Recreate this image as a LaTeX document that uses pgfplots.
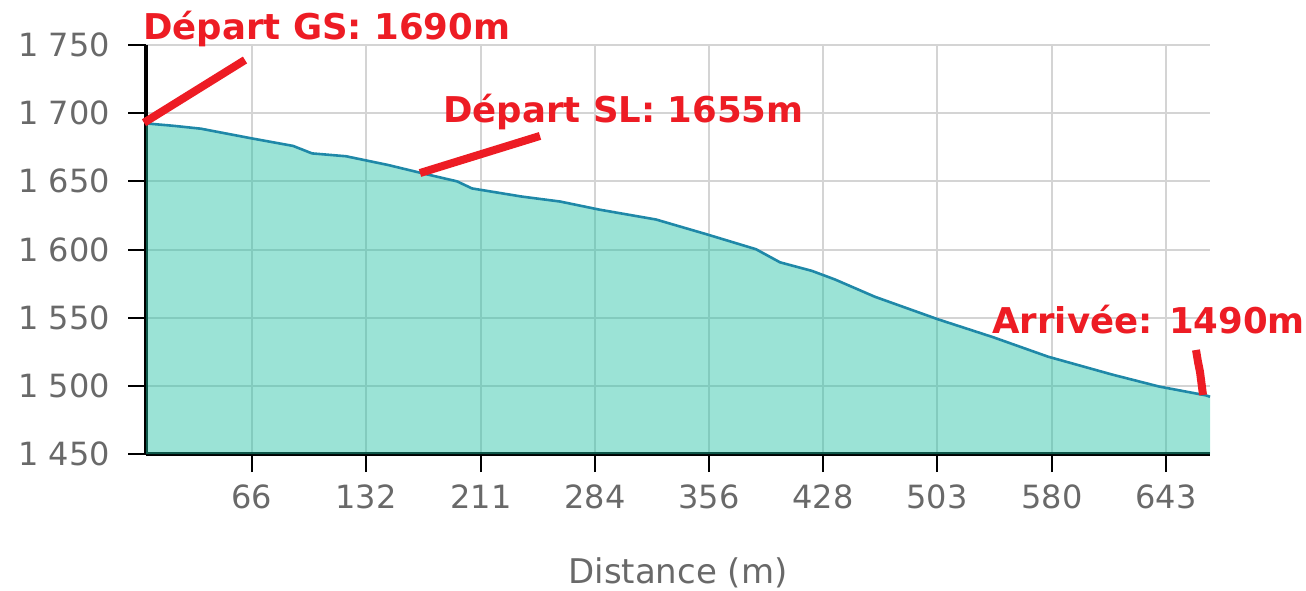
\documentclass[border=0pt]{standalone}
\usepackage{fontspec}
\setmainfont{DejaVu Sans}
\usepackage{pgfplots}
\pgfplotsset{compat=1.18}
\definecolor{lbl}{RGB}{105,105,105}
\definecolor{gridc}{RGB}{212,212,212}
\definecolor{fillc}{RGB}{33,193,164}
\definecolor{linec}{RGB}{31,136,168}
\definecolor{annot}{RGB}{237,28,36}
\pgfplotstableread{
x y
0 1692.5
28 1690.7
55 1688.6
105 1681.6
147 1676
166 1670.5
200 1668.4
242 1662
277 1655.8
311 1650
326 1644.8
376 1638.8
414 1635.2
453 1629.3
510 1622
560 1611.3
610 1600.2
634 1590.6
666 1584.3
689 1578
729 1565.3
792 1548.8
847 1535.7
902 1521.4
966 1508.3
1013 1499.5
1060 1493
1064 1492
}\profile
\begin{document}
\begin{tikzpicture}
\begin{axis}[
 at={(73pt,68pt)}, anchor=south west,
 scale only axis, width=532pt, height=204.5pt,
 xmin=0, xmax=1064, ymin=1450, ymax=1750,
 axis lines=left, axis line style={-, line width=1.6pt, black},
 xtick={106,220,335,449,563,677,791,906,1020},
 xticklabels={66,132,211,284,356,428,503,580,643},
 ytick={1450,1500,1550,1600,1650,1700,1750},
 yticklabels={1 450,1 500,1 550,1 600,1 650,1 700,1 750},
 grid=major, grid style={gridc, line width=1pt},
 tick align=outside, major tick length=9pt,
 tick style={black, line width=1pt},
 ticklabel style={font=\fontsize{16}{16}\selectfont, text=lbl},
 yticklabel style={xshift=-5.5pt},
 xticklabel style={yshift=-3pt},
 xlabel={Distance (m)},
 xlabel style={at={(axis description cs:0.5,0)}, anchor=center, yshift=-59.5pt, font=\fontsize{17}{17}\selectfont, text=lbl},
 clip=false,
]
\addplot[draw=none, fill=fillc, fill opacity=0.45] table[x=x,y=y]{\profile} \closedcycle;
\addplot[linec, line width=1.3pt] table[x=x,y=y]{\profile};
\draw[annot, line width=4pt] (axis cs:-2,1693) -- (axis cs:99,1739);
\draw[annot, line width=4pt] (axis cs:274,1656.1) -- (axis cs:394,1683.3);
\draw[annot, line width=4pt] (axis cs:1050,1526.3) -- (axis cs:1052,1517.5) -- (axis cs:1054,1510.2) -- (axis cs:1057,1493.3);
\node[anchor=base west, font=\fontsize{17.75}{18}\selectfont\bfseries, text=annot, inner sep=0] at (axis cs:-3,1753.7) {Départ GS: 1690m};
\node[anchor=base west, font=\fontsize{17.75}{18}\selectfont\bfseries, text=annot, inner sep=0] at (axis cs:297,1693.5) {Départ SL: 1655m};
\node[anchor=base west, font=\fontsize{17.75}{18}\selectfont\bfseries, text=annot, inner sep=0] at (axis cs:846,1538.7) {Arrivée: 1490m};
\end{axis}
\pgfresetboundingbox
\path[use as bounding box] (0,0) rectangle (653pt,295pt);
\end{tikzpicture}
\end{document}
